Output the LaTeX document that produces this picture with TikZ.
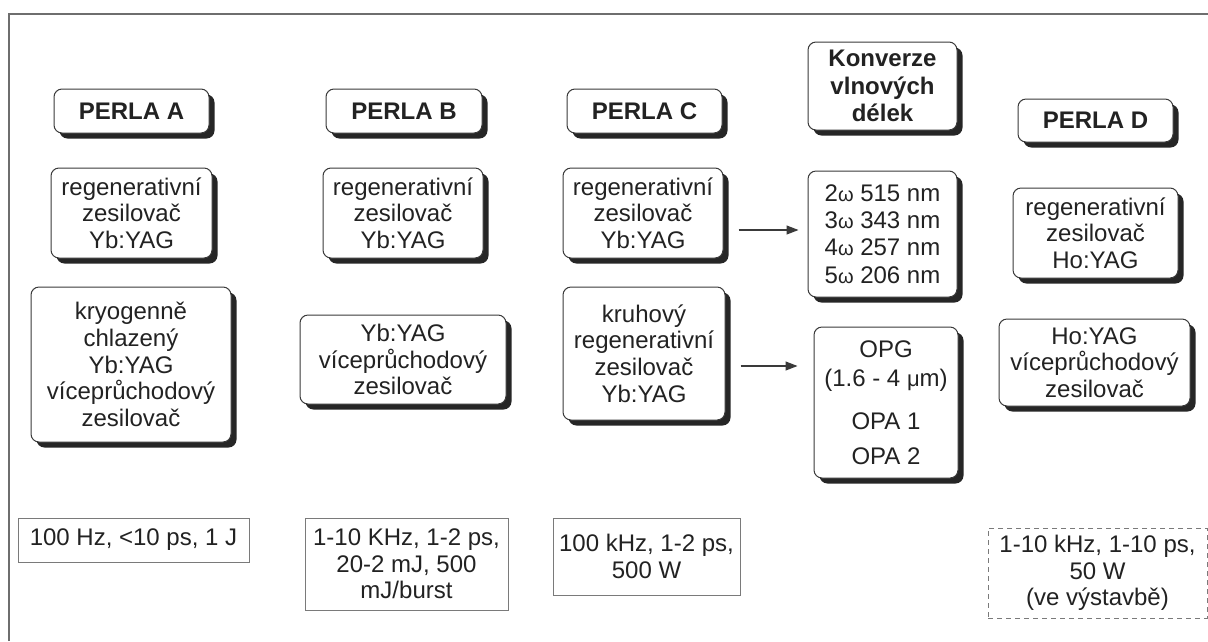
\documentclass[tikz,border=0pt]{standalone}
\usepackage{fontspec}
\setmainfont{Liberation Sans}
\usetikzlibrary{shadows,arrows.meta}
\definecolor{ink}{HTML}{222222}
\definecolor{edge}{HTML}{3A3A3A}
\definecolor{shade}{HTML}{262626}
\definecolor{frame}{HTML}{6E6E6E}
\definecolor{thin}{HTML}{7A7A7A}
\tikzset{
  txt/.style={font=\fontsize{24}{26.7}\selectfont, text=ink, align=center, inner sep=0pt},
  rbox/.style={txt, draw=edge, line width=1pt, fill=white, rounded corners=8pt,
    drop shadow={shadow xshift=5.5pt, shadow yshift=-5.5pt, fill=shade, opacity=1}},
  hbox/.style={rbox, font=\fontsize{24}{27.5}\selectfont\bfseries},
  pbox/.style={txt, draw=thin, line width=1pt, fill=white},
  dbox/.style={pbox, dash pattern=on 5pt off 4pt},
  arr/.style={draw=edge, line width=1.1pt, -{Triangle[length=12pt,width=9pt]}},
}
\newcommand{\om}{{\fontsize{20}{20}\selectfont ω}}
\begin{document}
\begin{tikzpicture}[x=1pt,y=-1pt]
\useasboundingbox (0,0) rectangle (1208,641);
\fill[white] (0,0) rectangle (1208,641);
% outer frame (left and top edges)
\draw[frame, line width=2pt] (9,641) -- (9,13.5) -- (1208,13.5);

% PERLA A
\node[hbox, minimum width=155pt, minimum height=44pt] (pa) at (131.5,111) {PERLA A};
\node[rbox, minimum width=161pt, minimum height=90pt] (ra) at (131.5,213) {regenerativní\\zesilovač\\Yb:YAG};
\node[rbox, minimum width=200pt, minimum height=155pt] (ka) at (131,364.5) {kryogenně\\chlazený\\Yb:YAG\\víceprůchodový\\zesilovač};
\node[pbox, minimum width=231pt, minimum height=44pt] (sa) at (133.5,540) {100 Hz, <10 ps, 1 J};

% PERLA B
\node[hbox, minimum width=156pt, minimum height=44pt] (pb) at (404,111) {PERLA B};
\node[rbox, minimum width=160pt, minimum height=90pt] (rb) at (403,213) {regenerativní\\zesilovač\\Yb:YAG};
\node[rbox, minimum width=206pt, minimum height=89pt] (mb) at (403,359.5) {Yb:YAG\\víceprůchodový\\zesilovač};
\node[pbox, minimum width=203pt, minimum height=92pt] (sb) at (406.5,564) {1-10 KHz, 1-2 ps,\\20-2 mJ, 500\\mJ/burst};

% PERLA C
\node[hbox, minimum width=155pt, minimum height=44pt] (pc) at (644.5,111) {PERLA C};
\node[rbox, minimum width=160pt, minimum height=90pt] (rc) at (643,213) {regenerativní\\zesilovač\\Yb:YAG};
\node[rbox, minimum width=162pt, minimum height=133pt] (kc) at (644,353.5) {kruhový\\regenerativní\\zesilovač\\Yb:YAG};
\node[pbox, minimum width=187pt, minimum height=77pt] (sc) at (646.5,556.5) {100 kHz, 1-2 ps,\\500 W};

% wavelength conversion
\node[hbox, minimum width=149pt, minimum height=88pt] (kv) at (882.5,86) {Konverze\\vlnových\\délek};
\node[rbox, minimum width=149pt, minimum height=126pt, font=\fontsize{24}{27.3}\selectfont] (wl) at (882.5,234)
  {2\om{} 515 nm\\3\om{} 343 nm\\4\om{} 257 nm\\5\om{} 206 nm};
\node[rbox, minimum width=144pt, minimum height=151pt] (op) at (886,402.5)
  {OPG\\[3pt](1.6 - 4 {\fontsize{22}{22}\selectfont μ}m)\\[16pt]OPA 1\\[8pt]OPA 2};

% PERLA D
\node[hbox, minimum width=155pt, minimum height=43pt] (pd) at (1095.5,120.5) {PERLA D};
\node[rbox, minimum width=165pt, minimum height=90pt] (rd) at (1095.5,233) {regenerativní\\zesilovač\\Ho:YAG};
\node[rbox, minimum width=191pt, minimum height=87pt] (md) at (1094.5,362.5) {Ho:YAG\\víceprůchodový\\zesilovač};
\node[dbox, minimum width=219pt, minimum height=90pt] (sd) at (1097.5,573) {1-10 kHz, 1-10 ps,\\50 W\\(ve výstavbě)};

% connectors
\coordinate (y1) at (0,230);
\coordinate (y2) at (0,366);
\draw[arr, shorten <=15pt, shorten >=9pt] (rc.east |- y1) -- (wl.west |- y1);
\draw[arr, shorten <=15pt, shorten >=16pt] (kc.east |- y2) -- (op.west |- y2);
\end{tikzpicture}
\end{document}
